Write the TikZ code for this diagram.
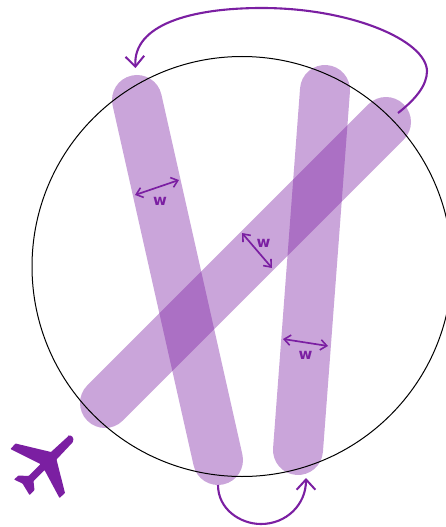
\documentclass[tikz,border=0pt]{standalone}
\usepackage{fontspec}
\setsansfont{DejaVu Sans}
\usetikzlibrary{arrows.meta}
\definecolor{flightpurple}{HTML}{7B1FA2}

\begin{document}
\begin{tikzpicture}[
  x=1pt, y=-1pt,
  strip/.style={line width=50pt, line cap=round, draw=flightpurple, opacity=0.4},
  turn/.style={-{Straight Barb[length=3.6mm,width=6.6mm,line width=2pt]}, line width=2.1pt, draw=flightpurple},
  widtharrow/.style={{Straight Barb[length=2.2mm,width=3.6mm,line width=1.6pt]}-{Straight Barb[length=2.2mm,width=3.6mm,line width=1.6pt]}, line width=1.7pt, draw=flightpurple},
  widthlabel/.style={text=flightpurple, font=\sffamily\bfseries\fontsize{15pt}{17pt}\selectfont, inner sep=0pt}
]
\useasboundingbox (0,0) rectangle (446,527);

\coordinate (stripatop) at (137,100);
\coordinate (stripabot) at (218,460);
\coordinate (stripbtop) at (325,90);
\coordinate (stripbbot) at (298,450);
\coordinate (stripcbot) at (105,403);
\coordinate (stripctop) at (386,122);

\draw[strip] (stripatop) -- (stripabot);
\draw[strip] (stripbtop) -- (stripbbot);
\draw[strip] (stripcbot) -- (stripctop);

\begin{scope}
  \clip (0,0) rectangle (446,527);
  \draw[black, line width=1pt] (242,266.5) circle[radius=210];
\end{scope}

\coordinate (turntopstart) at (398,113);
\coordinate (turntopend) at (135.5,68);
\coordinate (turnbotstart) at (218,485);
\coordinate (turnbotend) at (306,478);

\draw[turn] (turntopstart) .. controls (416,99) and (427,85) .. (427,71)
  .. controls (426,40) and (350,8) .. (262,8)
  .. controls (190,8) and (133,25) .. (135.5,68);
\draw[turn] (turnbotstart) .. controls (218,509) and (240,524) .. (261,524)
  .. controls (286,524) and (306,505) .. (306,478);

\coordinate (wastart) at (135,195);
\coordinate (waend) at (179,180);
\coordinate (wbstart) at (242,233);
\coordinate (wbend) at (272,268);
\coordinate (wcstart) at (283,339);
\coordinate (wcend) at (328,346);

\draw[widtharrow] (wastart) -- (waend);
\draw[widtharrow] (wbstart) -- (wbend);
\draw[widtharrow] (wcstart) -- (wcend);

\node[widthlabel] (wa) at (160,201) {w};
\node[widthlabel] (wb) at (263.5,243) {w};
\node[widthlabel] (wc) at (305.5,355) {w};

\fill[flightpurple, rounded corners=0.6pt] (68.5,436) -- (51,452) -- (15.5,443.5) -- (10.5,449)
  -- (40.5,464) -- (28.5,476) -- (18.5,475.5) -- (14,479.5) -- (22.5,483.5) -- (29.5,495)
  -- (34.5,490) -- (33.5,481) -- (44.5,470) -- (59.5,498) -- (65,493) -- (56.5,459.5)
  -- (72.5,442.5) .. controls (75,438) and (71,434.5) .. (68.5,436) -- cycle;
\end{tikzpicture}
\end{document}
